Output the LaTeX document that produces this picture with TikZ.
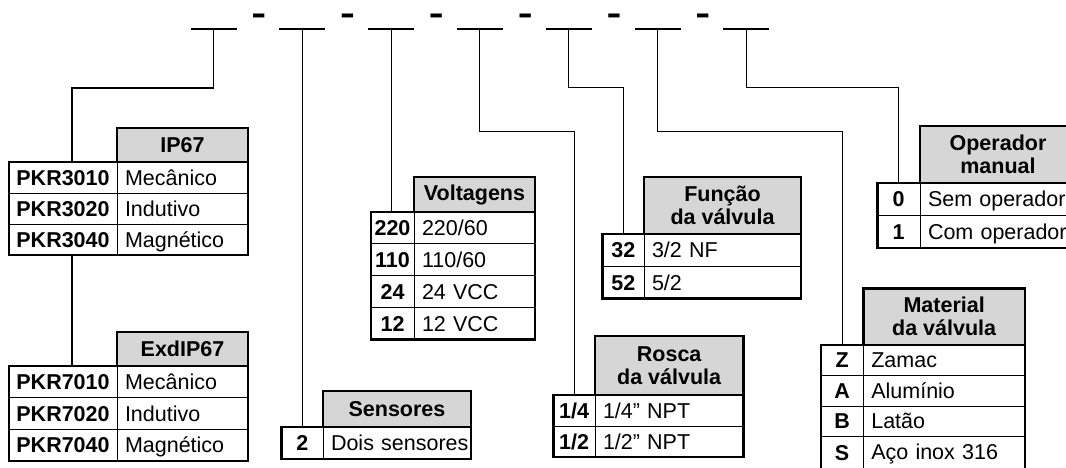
\documentclass[tikz,border=0pt]{standalone}
\usepackage{fontspec}
\setmainfont{Liberation Sans}
\definecolor{hdrgray}{RGB}{214,214,214}
\newcommand\fs{\fontsize{21.5pt}{23pt}\selectfont}
\newcommand\dashfs{\fontsize{33pt}{33pt}\selectfont\bfseries}
\newcommand\inch{\char34\relax}
\begin{document}
\begin{tikzpicture}[x=1pt,y=-1pt,
  base/.style={inner sep=0pt, outer sep=0pt, anchor=north west},
  kc/.style 2 args={base, draw, line width=1pt, font=\fs\bfseries, minimum width=#1, minimum height=#2, text height=15.4pt, text depth=0pt},
  vc/.style 2 args={base, draw, line width=1pt, font=\fs, text width=#1, inner xsep=8pt, minimum height=#2, text height=15.4pt, text depth=0pt, align=left},
  hc/.style 2 args={base, draw, line width=2.6pt, fill=hdrgray, font=\fs\bfseries, minimum width=#1, minimum height=#2, align=center},
  frame/.style={draw, line width=2.6pt},
  link/.style={draw, line width=1.1pt},
  slotline/.style={draw, line width=2.2pt},
  dashmark/.style={inner sep=0pt, outer sep=0pt, anchor=base, font=\dashfs}]
\clip (0,0) rectangle (1066,467);
\fill[white] (0,0) rectangle (1066,467);

% slots
\foreach \i in {1,...,7} {
  \coordinate (s\i) at ({213.5+88.8*(\i-1)},29);
  \draw[slotline] ([xshift=-23pt]s\i) -- ([xshift=23pt]s\i);
}
\foreach \i in {1,...,6} {
  \node[dashmark] (d\i) at ({258.8+88.8*(\i-1)},24) {\scalebox{1.35}[1]{-}};
}

% IP67
\node[kc={108pt}{31pt}] (ik1) at (9,162) {PKR3010};
\node[vc={115pt}{31pt}] (iv1) at (117,162) {Mecânico};
\node[kc={108pt}{31pt}] (ik2) at (9,193) {PKR3020};
\node[vc={115pt}{31pt}] (iv2) at (117,193) {Indutivo};
\node[kc={108pt}{31pt}] (ik3) at (9,224) {PKR3040};
\node[vc={115pt}{31pt}] (iv3) at (117,224) {Magnético};
\draw[frame] (ik1.north west) rectangle (iv3.south east);
\node[hc={131pt}{34pt}] (ih) at (117,128) {IP67};

% ExdIP67
\node[kc={108pt}{31.7pt}] (ek1) at (9,366) {PKR7010};
\node[vc={115pt}{31.7pt}] (ev1) at (117,366) {Mecânico};
\node[kc={108pt}{31.7pt}] (ek2) at (9,397.7) {PKR7020};
\node[vc={115pt}{31.7pt}] (ev2) at (117,397.7) {Indutivo};
\node[kc={108pt}{31.7pt}] (ek3) at (9,429.4) {PKR7040};
\node[vc={115pt}{31.7pt}] (ev3) at (117,429.4) {Magnético};
\draw[frame] (ek1.north west) rectangle (ev3.south east);
\node[hc={131pt}{34pt}] (eh) at (117,332) {ExdIP67};

% Voltagens
\node[kc={43pt}{31.8pt}] (vk1) at (371,212) {220};
\node[vc={105pt}{31.8pt}] (vv1) at (414,212) {220/60};
\node[kc={43pt}{31.8pt}] (vk2) at (371,243.8) {110};
\node[vc={105pt}{31.8pt}] (vv2) at (414,243.8) {110/60};
\node[kc={43pt}{31.8pt}] (vk3) at (371,275.6) {24};
\node[vc={105pt}{31.8pt}] (vv3) at (414,275.6) {24 VCC};
\node[kc={43pt}{31.8pt}] (vk4) at (371,307.4) {12};
\node[vc={105pt}{31.8pt}] (vv4) at (414,307.4) {12 VCC};
\draw[frame] (vk1.north west) rectangle (vv4.south east);
\node[hc={121pt}{35pt}] (vh) at (414,177) {Voltagens};

% Sensores
\node[kc={41.3pt}{32pt}] (sk1) at (281.7,427) {2};
\node[vc={132pt}{32pt}] (sv1) at (323,427) {\mbox{Dois sensores}};
\draw[frame] (sk1.north west) rectangle (sv1.south east);
\node[hc={148pt}{36pt}] (sh) at (323,391) {Sensores};

% Funcao
\node[kc={41.5pt}{32.3pt}] (fk1) at (602.5,234) {32};
\node[vc={141pt}{32.3pt}] (fv1) at (644,234) {3/2 NF};
\node[kc={41.5pt}{32.3pt}] (fk2) at (602.5,266.3) {52};
\node[vc={141pt}{32.3pt}] (fv2) at (644,266.3) {5/2};
\draw[frame] (fk1.north west) rectangle (fv2.south east);
\node[hc={157pt}{57pt}] (fh) at (644,177) {Função\\da válvula};

% Rosca
\node[kc={41.7pt}{31pt}] (rk1) at (553.3,395) {1/4};
\node[vc={132.3pt}{31pt}] (rv1) at (595,395) {\mbox{1/4\inch{} NPT}};
\node[kc={41.7pt}{31pt}] (rk2) at (553.3,426) {1/2};
\node[vc={132.3pt}{31pt}] (rv2) at (595,426) {\mbox{1/2\inch{} NPT}};
\draw[frame] (rk1.north west) rectangle (rv2.south east);
\node[hc={148.3pt}{59pt}] (rh) at (595,336) {Rosca\\da válvula};

% Material
\node[kc={42.3pt}{30.5pt}] (mk1) at (821,345) {Z};
\node[vc={145.7pt}{30.5pt}] (mv1) at (863.3,345) {Zamac};
\node[kc={42.3pt}{30.5pt}] (mk2) at (821,375.5) {A};
\node[vc={145.7pt}{30.5pt}] (mv2) at (863.3,375.5) {Alumínio};
\node[kc={42.3pt}{30.5pt}] (mk3) at (821,406) {B};
\node[vc={145.7pt}{30.5pt}] (mv3) at (863.3,406) {Latão};
\node[base, draw, line width=1pt, font=\fs\bfseries, minimum width=42.3pt, minimum height=34pt] (mk4) at (821,436.5) {\raisebox{2pt}{S}};
\node[base, draw, line width=1pt, font=\fs, text width=145.7pt, inner xsep=8pt, minimum height=34pt, align=left] (mv4) at (863.3,436.5) {\raisebox{2pt}{\mbox{Aço inox 316}}};
\draw[frame] (mk1.north west) rectangle (mv4.south east);
\node[hc={161.7pt}{56.7pt}] (mh) at (863.3,288.3) {Material\\da válvula};

% Operador
\node[kc={42.7pt}{32.5pt}] (ok1) at (877.3,183) {0};
\node[vc={140pt}{32.5pt}] (ov1) at (920,183) {\mbox{Sem operador}};
\node[kc={42.7pt}{32.5pt}] (ok2) at (877.3,215.5) {1};
\node[vc={140pt}{32.5pt}] (ov2) at (920,215.5) {\mbox{Com operador}};
\draw[frame] (ok1.north west) rectangle (ov2.south east);
\node[hc={156pt}{57pt}] (oh) at (920,126) {Operador\\manual};

% connectors
\draw[link] (s1) -- ++(0,59) -| ([xshift=9pt]ik1.north);
\draw[link] ([xshift=9pt]ik3.south) -- ([xshift=9pt]ek1.north);
\draw[link] (s2) -- (s2 |- sk1.north);
\draw[link] (s3) -- (s3 |- vk1.north);
\draw[link] (s4) -- ++(0,102.7) -| (rk1.north);
\draw[link] (s5) -- ++(0,58.5) -| (fk1.north);
\draw[link] (s6) -- ++(0,102.7) -| (mk1.north);
\draw[link] (s7) -- ++(0,58.3) -| (ok1.north);
\end{tikzpicture}
\end{document}
